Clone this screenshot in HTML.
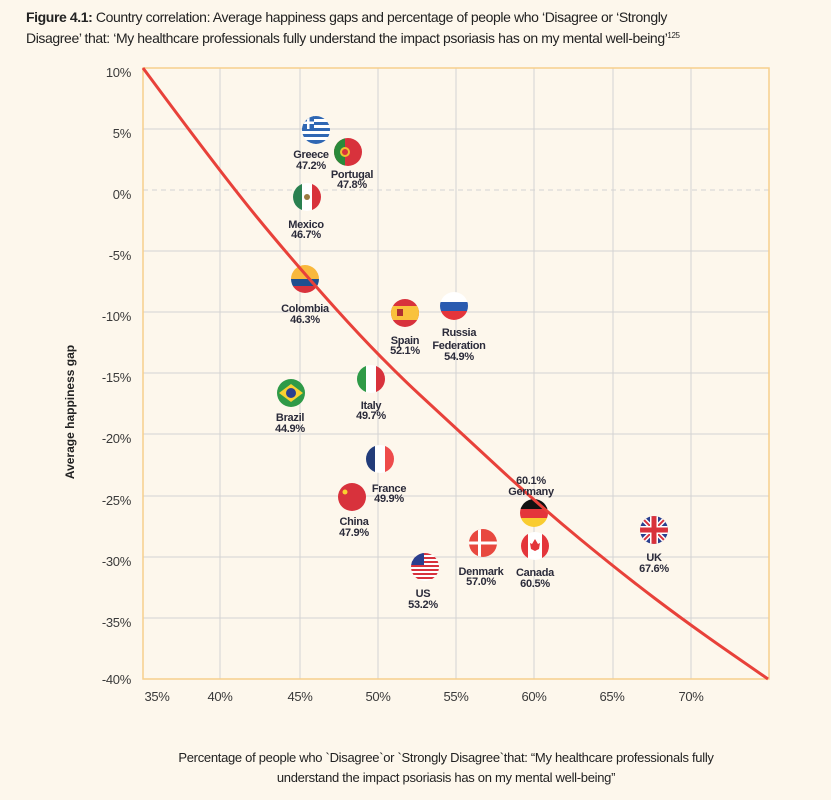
<!DOCTYPE html>
<html><head><meta charset="utf-8"><style>
body{margin:0;background:#fdf7ec;}
svg{display:block}
text{font-family:"Liberation Sans",sans-serif}
.c{font-size:11px;font-weight:bold;fill:#2b2b3a;text-anchor:middle;letter-spacing:-0.3px}
.t{font-size:13px;fill:#3a3a3a;letter-spacing:-0.3px}
</style></head><body>
<svg width="831" height="800" viewBox="0 0 831 800" xmlns="http://www.w3.org/2000/svg">
<rect width="831" height="800" fill="#fdf7ec"/>
<text x="26" y="22" font-size="14" fill="#222" letter-spacing="-0.4"><tspan font-weight="bold">Figure 4.1:</tspan> Country correlation: Average happiness gaps and percentage of people who ‘Disagree or ‘Strongly</text>
<text x="26" y="43" font-size="14" fill="#222" letter-spacing="-0.4">Disagree’ that: ‘My healthcare professionals fully understand the impact psoriasis has on my mental well-being’<tspan font-size="8" dy="-5">125</tspan></text>
<g stroke="#d3d3d3" stroke-width="1">
<line x1="220" y1="68" x2="220" y2="679"/><line x1="300" y1="68" x2="300" y2="679"/><line x1="378" y1="68" x2="378" y2="679"/><line x1="456" y1="68" x2="456" y2="679"/><line x1="534" y1="68" x2="534" y2="679"/><line x1="613" y1="68" x2="613" y2="679"/><line x1="691" y1="68" x2="691" y2="679"/>
<line x1="143" y1="129" x2="769" y2="129"/><line x1="143" y1="251" x2="769" y2="251"/><line x1="143" y1="312" x2="769" y2="312"/><line x1="143" y1="373" x2="769" y2="373"/><line x1="143" y1="434" x2="769" y2="434"/><line x1="143" y1="496" x2="769" y2="496"/><line x1="143" y1="557" x2="769" y2="557"/><line x1="143" y1="618" x2="769" y2="618"/>
<line x1="143" y1="190" x2="769" y2="190" stroke-dasharray="5,4"/>
</g>
<rect x="143" y="68" width="626" height="611" fill="none" stroke="#f7cf8c" stroke-width="1.5"/>
<g class="t" text-anchor="end">
<text x="131" y="77">10%</text><text x="131" y="138">5%</text><text x="131" y="199">0%</text><text x="131" y="260">-5%</text><text x="131" y="321">-10%</text><text x="131" y="382">-15%</text><text x="131" y="443">-20%</text><text x="131" y="505">-25%</text><text x="131" y="566">-30%</text><text x="131" y="627">-35%</text><text x="131" y="684">-40%</text>
</g>
<g class="t" text-anchor="middle">
<text x="157" y="701">35%</text><text x="220" y="701">40%</text><text x="300" y="701">45%</text><text x="378" y="701">50%</text><text x="456" y="701">55%</text><text x="534" y="701">60%</text><text x="612" y="701">65%</text><text x="691" y="701">70%</text>
</g>
<text transform="translate(74,412) rotate(-90)" text-anchor="middle" font-size="12" font-weight="bold" fill="#222">Average happiness gap</text>
<text x="446" y="762" text-anchor="middle" font-size="13" fill="#222" letter-spacing="-0.3">Percentage of people who `Disagree`or `Strongly Disagree`that: “My healthcare professionals fully</text>
<text x="446" y="782" text-anchor="middle" font-size="13" fill="#222" letter-spacing="-0.3">understand the impact psoriasis has on my mental well-being”</text>
<defs>
<clipPath id="cp"><circle cx="0" cy="0" r="14"/></clipPath>
</defs>
<g transform="translate(316,130)" clip-path="url(#cp)"><rect x="-14" y="-14" width="28" height="28" fill="#fff"/><g fill="#2f67b3"><rect x="-14" y="-14" width="28" height="3"/><rect x="-14" y="-8" width="28" height="3"/><rect x="-14" y="-2" width="28" height="3"/><rect x="-14" y="4" width="28" height="3"/><rect x="-14" y="10" width="28" height="4"/></g><rect x="-14" y="-14" width="12" height="13" fill="#2f67b3"/><rect x="-9" y="-14" width="2.5" height="13" fill="#fff"/><rect x="-14" y="-8.5" width="12" height="2.5" fill="#fff"/></g>
<g transform="translate(348,152)" clip-path="url(#cp)"><rect x="-14" y="-14" width="28" height="28" fill="#d8323c"/><rect x="-14" y="-14" width="11" height="28" fill="#2a8a3a"/><circle cx="-3" cy="0" r="5" fill="#f0c030"/><circle cx="-3" cy="0" r="3" fill="#d8323c"/></g>
<g transform="translate(307,197)" clip-path="url(#cp)"><rect x="-14" y="-14" width="28" height="28" fill="#fff"/><rect x="-14" y="-14" width="9" height="28" fill="#2a8050"/><rect x="5" y="-14" width="9" height="28" fill="#d8323c"/><circle r="3" fill="#9a7a40"/></g>
<g transform="translate(305,279)" clip-path="url(#cp)"><rect x="-14" y="-14" width="28" height="14" fill="#f9b83c"/><rect x="-14" y="0" width="28" height="7" fill="#1f4f8f"/><rect x="-14" y="7" width="28" height="7" fill="#d8323c"/></g>
<g transform="translate(405,313)" clip-path="url(#cp)"><rect x="-14" y="-14" width="28" height="28" fill="#d8323c"/><rect x="-14" y="-7" width="28" height="14" fill="#f9c23c"/><rect x="-8" y="-4" width="6" height="7" fill="#b03030"/></g>
<g transform="translate(454,306)" clip-path="url(#cp)"><rect x="-14" y="-14" width="28" height="10" fill="#fff"/><rect x="-14" y="-4" width="28" height="9" fill="#2a5bb0"/><rect x="-14" y="5" width="28" height="9" fill="#e4353b"/></g>
<g transform="translate(371,379)" clip-path="url(#cp)"><rect x="-14" y="-14" width="28" height="28" fill="#fff"/><rect x="-14" y="-14" width="9" height="28" fill="#2f9a48"/><rect x="5" y="-14" width="9" height="28" fill="#d8323c"/></g>
<g transform="translate(291,393)" clip-path="url(#cp)"><rect x="-14" y="-14" width="28" height="28" fill="#2f9a48"/><polygon points="-12,0 0,-9 12,0 0,9" fill="#f9d030"/><circle r="5" fill="#2a3f8f"/></g>
<g transform="translate(380,459)" clip-path="url(#cp)"><rect x="-14" y="-14" width="28" height="28" fill="#fff"/><rect x="-14" y="-14" width="9" height="28" fill="#223c7a"/><rect x="5" y="-14" width="9" height="28" fill="#ee4b4b"/></g>
<g transform="translate(352,497)" clip-path="url(#cp)"><rect x="-14" y="-14" width="28" height="28" fill="#d8323c"/><circle cx="-7" cy="-5" r="2.5" fill="#f9d030"/></g>
<g transform="translate(534,513)" clip-path="url(#cp)"><rect x="-14" y="-14" width="28" height="10" fill="#111"/><rect x="-14" y="-4" width="28" height="9" fill="#e4353b"/><rect x="-14" y="5" width="28" height="9" fill="#f9cc30"/></g>
<g transform="translate(483,543)" clip-path="url(#cp)"><rect x="-14" y="-14" width="28" height="28" fill="#e8483f"/><rect x="-14" y="-1.5" width="28" height="3" fill="#fff"/><rect x="-5" y="-14" width="3" height="28" fill="#fff"/></g>
<g transform="translate(535,546)" clip-path="url(#cp)"><rect x="-14" y="-14" width="28" height="28" fill="#fff"/><rect x="-14" y="-14" width="7" height="28" fill="#e4353b"/><rect x="7" y="-14" width="7" height="28" fill="#e4353b"/><polygon points="0,-7 3,-2 5,-3 4,3 0,5 -4,3 -5,-3 -3,-2" fill="#e4353b"/></g>
<g transform="translate(425,567)" clip-path="url(#cp)"><rect x="-14" y="-14" width="28" height="28" fill="#fff"/><g fill="#d8323c"><rect x="-14" y="-14" width="28" height="2"/><rect x="-14" y="-10" width="28" height="2"/><rect x="-14" y="-6" width="28" height="2"/><rect x="-14" y="-2" width="28" height="2"/><rect x="-14" y="2" width="28" height="2"/><rect x="-14" y="6" width="28" height="2"/><rect x="-14" y="10" width="28" height="2"/></g><rect x="-14" y="-14" width="13" height="12" fill="#2a3f8f"/></g>
<g transform="translate(654,530)" clip-path="url(#cp)"><rect x="-14" y="-14" width="28" height="28" fill="#2a3f8f"/><line x1="-14" y1="-14" x2="14" y2="14" stroke="#fff" stroke-width="5"/><line x1="14" y1="-14" x2="-14" y2="14" stroke="#fff" stroke-width="5"/><line x1="-14" y1="-14" x2="14" y2="14" stroke="#d8323c" stroke-width="2"/><line x1="14" y1="-14" x2="-14" y2="14" stroke="#d8323c" stroke-width="2"/><rect x="-14" y="-4" width="28" height="8" fill="#fff"/><rect x="-4" y="-14" width="8" height="28" fill="#fff"/><rect x="-14" y="-2.5" width="28" height="5" fill="#d8323c"/><rect x="-2.5" y="-14" width="5" height="28" fill="#d8323c"/></g>
<path d="M143,68 Q220,172 256,216 Q292,260 336,309 Q380,358 420,395 Q460,432 500,469 Q540,506 580,539 Q620,572 655,598.5 Q690,625 729,652 L768,679" fill="none" stroke="#e8413a" stroke-width="3" stroke-linejoin="round"/>
<g class="c">
<text x="311" y="158">Greece</text><text x="311" y="169">47.2%</text>
<text x="352" y="178">Portugal</text><text x="352" y="188">47.8%</text>
<text x="306" y="228">Mexico</text><text x="306" y="238">46.7%</text>
<text x="305" y="312">Colombia</text><text x="305" y="323">46.3%</text>
<text x="405" y="344">Spain</text><text x="405" y="354">52.1%</text>
<text x="459" y="336">Russia</text><text x="459" y="349">Federation</text><text x="459" y="360">54.9%</text>
<text x="371" y="409">Italy</text><text x="371" y="419">49.7%</text>
<text x="290" y="421">Brazil</text><text x="290" y="432">44.9%</text>
<text x="389" y="492">France</text><text x="389" y="502">49.9%</text>
<text x="354" y="525">China</text><text x="354" y="536">47.9%</text>
<text x="531" y="484">60.1%</text><text x="531" y="495">Germany</text>
<text x="481" y="575">Denmark</text><text x="481" y="585">57.0%</text>
<text x="535" y="576">Canada</text><text x="535" y="587">60.5%</text>
<text x="654" y="561">UK</text><text x="654" y="572">67.6%</text>
<text x="423" y="597">US</text><text x="423" y="608">53.2%</text>
</g>
</svg>
</body></html>
